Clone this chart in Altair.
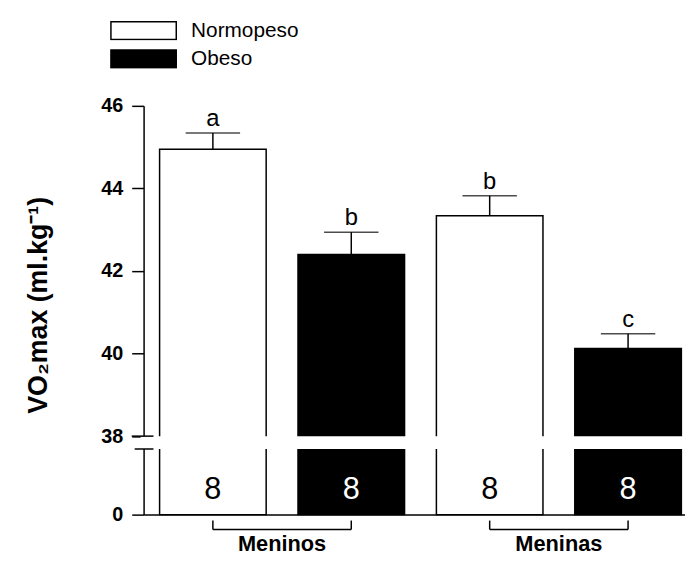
import altair as alt
import pandas as pd

# ---- data ----
groups = ["Meninos", "Meninos", "Meninas", "Meninas"]
status = ["Normopeso", "Obeso", "Normopeso", "Obeso"]
positions = [0, 1, 2, 3]
means = [44.95, 42.40, 43.34, 40.12]
sems = [0.39, 0.54, 0.48, 0.36]
letters = ["a", "b", "b", "c"]
n_sizes = [8, 8, 8, 8]
y_ticks = [0, 38, 40, 42, 44, 46]
legend_order = ["Normopeso", "Obeso"]

df = pd.DataFrame({
    "grp": groups,
    "status": status,
    "pos": positions,
    "mean": means,
    "sem": sems,
    "letter": letters,
    "n": n_sizes,
})

W, H = 547, 413
FONT = "Liberation Sans"

yscale = alt.Scale(domain=[0, 30, 38, 46], range=[413, 346.7, 333.7, 0], nice=False, zero=False)
xscale = alt.Scale(domain=[-0.5006, 3.4113], nice=False, zero=False)

base = alt.Chart(df)

bars = base.transform_calculate(
    xlo="datum.pos - 0.385", xhi="datum.pos + 0.385"
).mark_rect(stroke="black", strokeWidth=1.5).encode(
    x=alt.X("xlo:Q", scale=xscale,
            axis=alt.Axis(domain=True, domainColor="black", domainWidth=1.5,
                          ticks=False, labels=False, grid=False, title="")),
    x2="xhi:Q",
    y=alt.Y("mean:Q", scale=yscale,
            axis=alt.Axis(values=y_ticks, tickSize=12, tickWidth=1.5, tickColor="black",
                          domainColor="black", domainWidth=1.5, grid=False,
                          labelFont=FONT, labelFontSize=20, labelFontWeight="bold",
                          labelColor="black", labelPadding=9,
                          title="VO₂max (ml.kg⁻¹)", titleFont=FONT, titleFontSize=27,
                          titleFontWeight="bold", titleColor="black",
                          titleX=-98, titleY=201, titleAngle=270,
                          titleAlign="center", titleBaseline="alphabetic")),
    y2=alt.datum(0),
    fill=alt.Fill("status:N",
                  scale=alt.Scale(domain=legend_order, range=["white", "black"]),
                  legend=alt.Legend(orient="none", legendX=-34, legendY=-86, title="",
                                    symbolType="M-1,-0.27L1,-0.27L1,0.27L-1,0.27Z",
                                    symbolSize=4356, symbolStrokeColor="black",
                                    symbolStrokeWidth=1.5, labelFont=FONT,
                                    labelFontSize=21, labelColor="black",
                                    labelOffset=14, clipHeight=20, rowPadding=7.5,
                                    padding=0)),
)

one = alt.Chart(pd.DataFrame({"k": [0]}))

gap = one.mark_rect(fill="white", strokeWidth=0).encode(
    x=alt.value(-3), x2=alt.value(W + 2), y=alt.datum(30), y2=alt.datum(38)
)

brk_hi = one.mark_rule(color="black", strokeWidth=1.5).encode(
    x=alt.value(-12), x2=alt.value(10), y=alt.datum(38)
)
brk_lo = one.mark_rule(color="black", strokeWidth=1.5).encode(
    x=alt.value(-9), x2=alt.value(10), y=alt.datum(30)
)

err = base.transform_calculate(top="datum.mean + datum.sem")

stems = err.mark_rule(color="black", strokeWidth=1.5).encode(
    x=alt.X("pos:Q", scale=xscale), y=alt.Y("mean:Q"), y2="top:Q"
)
caps = err.mark_tick(orient="horizontal", size=55, thickness=1.5, color="black").encode(
    x=alt.X("pos:Q", scale=xscale), y=alt.Y("top:Q")
)
sig = err.mark_text(font=FONT, fontSize=24, baseline="alphabetic", dy=-7, color="black").encode(
    x=alt.X("pos:Q", scale=xscale), y=alt.Y("top:Q"), text="letter:N"
)

ntext = base.mark_text(font=FONT, fontSize=31, baseline="alphabetic", dy=-16).encode(
    x=alt.X("pos:Q", scale=xscale), y=alt.datum(0), text="n:N",
    color=alt.condition(alt.datum.status == "Obeso", alt.value("white"), alt.value("black")),
)

brk = base.transform_aggregate(first="min(pos)", last="max(pos)", groupby=["grp"])

bracket = brk.mark_rule(color="black", strokeWidth=1.5).encode(
    x=alt.X("first:Q", scale=xscale), x2="last:Q", y=alt.value(428)
)
bracket_ends = brk.transform_fold(["first", "last"], as_=["end", "xe"]).mark_rule(
    color="black", strokeWidth=1.5
).encode(
    x=alt.X("xe:Q", scale=xscale), y=alt.value(419), y2=alt.value(428)
)
grp_labels = brk.transform_calculate(mid="(datum.first + datum.last) / 2").mark_text(
    font=FONT, fontSize=22, fontWeight="bold", baseline="alphabetic", color="black"
).encode(
    x=alt.X("mid:Q", scale=xscale), y=alt.value(450), text="grp:N"
)

chart = alt.layer(
    bars, gap, brk_hi, brk_lo, stems, caps, sig, ntext, bracket, bracket_ends, grp_labels
).properties(
    width=W, height=H,
    autosize=alt.AutoSizeParams(type="none"),
    padding={"left": 137, "top": 96, "right": 0, "bottom": 44},
    background="white",
).configure_view(strokeWidth=0)

chart.save("out.html", embed_options={"renderer": "svg", "actions": False})
